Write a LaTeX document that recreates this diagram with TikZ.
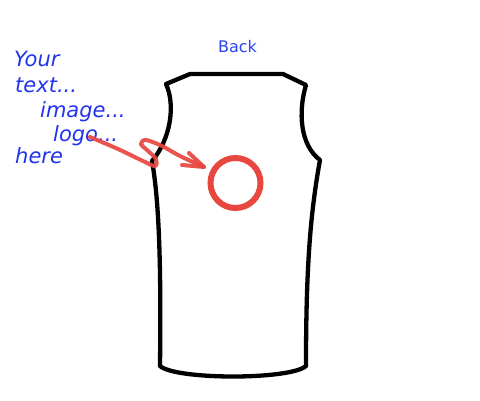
\documentclass[tikz,border=0pt]{standalone}
\usepackage{fontspec}
\setmainfont{DejaVu Sans}
\newfontfamily\handfont{DejaVu Sans}[ItalicFont={DejaVu Sans Oblique}]
\definecolor{backblue}{HTML}{2A44F0}
\definecolor{handblue}{HTML}{2233EE}
\definecolor{markred}{HTML}{E8473F}
\tikzset{
  shirtline/.style={draw=black, line width=4.3pt, line join=round, line cap=round},
  redmark/.style={draw=markred, line width=4pt, line join=round, line cap=round, opacity=0.92},
  handtext/.style={text=handblue, anchor=base west, inner sep=0pt, font=\handfont\itshape\fontsize{21}{25}\selectfont},
}
\begin{document}
\begin{tikzpicture}[x=1pt,y=-1pt]
\useasboundingbox (0,0) rectangle (480,400);
\fill[white] (0,0) rectangle (480,400);
% shirt
\coordinate (nl) at (190,74);
\coordinate (nr) at (283,74);
\coordinate (sr) at (306,85);
\coordinate (ar) at (320,160);
\coordinate (br) at (306,366);
\coordinate (bl) at (160,366);
\coordinate (al) at (152,161);
\coordinate (sl) at (166,84);
\draw[shirtline] (nl) -- (nr) -- (sr)
  .. controls (298,112) and (300,145) .. (ar)
  .. controls (310,215) and (306,270) .. (br)
  .. controls (290,380) and (176,380) .. (bl)
  .. controls (161,280) and (160,205) .. (al)
  .. controls (170,140) and (176,106) .. (sl) -- cycle;
% title
\node[text=backblue, font=\fontsize{16}{19}\selectfont, inner sep=0pt] (back) at (237.5,47) {Back};
% hand text
\node[handtext] (t1) at (14,66) {Your};
\node[handtext] (t2) at (15,92) {text...};
\node[handtext] (t3) at (40,117) {image...};
\node[handtext] (t4) at (53,141) {logo...};
\node[handtext] (t5) at (15,163) {here};
% red circle
\node[draw=markred, line width=6pt, circle, minimum size=50pt, inner sep=0pt] (logo) at (235.5,183) {};
% red arrow
\coordinate (as) at (90,137);
\coordinate (tip) at (204,167);
\coordinate (b1) at (189,153);
\coordinate (b2) at (182,165);
\draw[redmark] plot[smooth, tension=0.55] coordinates {(as) (118,149) (143,161) (155,166) (156,159) (147,150) (141,144) (146,140) (162,146) (180,156) (tip)};
\draw[redmark] (b1) -- (tip) -- (b2);
\end{tikzpicture}
\end{document}
